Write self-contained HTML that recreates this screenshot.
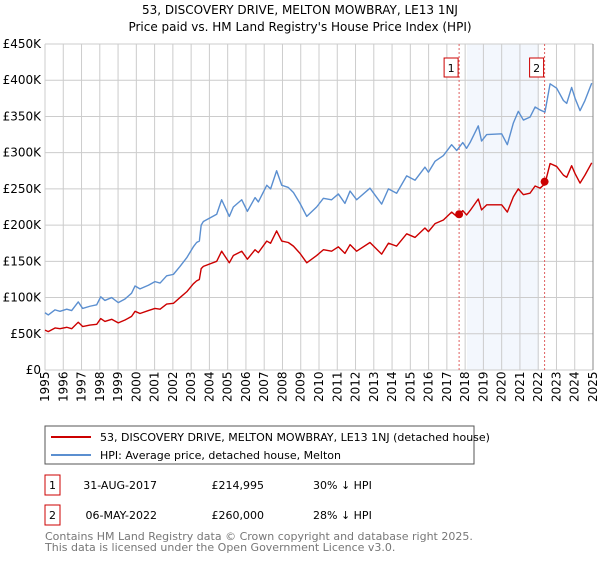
<!DOCTYPE html>
<html><head><meta charset="utf-8"><style>
body{margin:0;background:#fff;font-family:"DejaVu Sans","Liberation Sans",sans-serif;}
svg text{font-family:"DejaVu Sans","Liberation Sans",sans-serif;}
</style></head><body>
<svg id="c" width="600" height="560" xmlns="http://www.w3.org/2000/svg">
<text x="300" y="14" text-anchor="middle" font-size="12">53, DISCOVERY DRIVE, MELTON MOWBRAY, LE13 1NJ</text>
<text x="300" y="31" text-anchor="middle" font-size="12">Price paid vs. HM Land Registry's House Price Index (HPI)</text>
<g id="plot"></g>
<rect x="45" y="426" width="429" height="38" fill="#fff" stroke="#555"/>
<line x1="51" y1="437" x2="91" y2="437" stroke="#cc0000" stroke-width="2"/>
<text x="100" y="441" font-size="11">53, DISCOVERY DRIVE, MELTON MOWBRAY, LE13 1NJ (detached house)</text>
<line x1="51" y1="455" x2="91" y2="455" stroke="#5b8fd0" stroke-width="2"/>
<text x="100" y="459" font-size="11">HPI: Average price, detached house, Melton</text>
<rect x="45" y="475" width="15" height="20" fill="#fff" stroke="#cc0000"/>
<text x="52.5" y="489" text-anchor="middle" font-size="11">1</text>
<text x="157" y="489" text-anchor="end" font-size="11">31-AUG-2017</text>
<text x="264" y="489" text-anchor="end" font-size="11">£214,995</text>
<text x="313" y="489" font-size="11">30% ↓ HPI</text>
<rect x="45" y="505" width="15" height="20" fill="#fff" stroke="#cc0000"/>
<text x="52.5" y="519" text-anchor="middle" font-size="11">2</text>
<text x="157" y="519" text-anchor="end" font-size="11">06-MAY-2022</text>
<text x="264" y="519" text-anchor="end" font-size="11">£260,000</text>
<text x="313" y="519" font-size="11">28% ↓ HPI</text>
<text x="45" y="540" font-size="11" fill="#777">Contains HM Land Registry data © Crown copyright and database right 2025.</text>
<text x="45" y="551" font-size="11" fill="#777">This data is licensed under the Open Government Licence v3.0.</text>
</svg>
<script>
const hpiYears=[1995.0,1995.18,1995.55,1995.82,1996.19,1996.46,1996.82,1997.06,1997.46,1997.83,1998.05,1998.28,1998.65,1999.01,1999.38,1999.74,1999.93,2000.2,2000.66,2001.02,2001.3,2001.66,2002.03,2002.39,2002.76,2003.12,2003.3,2003.45,2003.55,2003.67,2004.4,2004.67,2005.09,2005.31,2005.77,2006.08,2006.5,2006.68,2007.14,2007.35,2007.68,2007.96,2008.32,2008.6,2008.96,2009.33,2009.87,2010.24,2010.69,2011.06,2011.42,2011.7,2012.06,2012.79,2013.43,2013.8,2014.25,2014.8,2015.26,2015.8,2015.99,2016.35,2016.81,2017.26,2017.54,2017.87,2018.08,2018.27,2018.72,2018.9,2019.18,2020.0,2020.31,2020.64,2020.91,2021.19,2021.55,2021.83,2022.1,2022.37,2022.65,2023.01,2023.38,2023.56,2023.83,2024.02,2024.29,2024.56,2024.93];
const hpiValues=[79,76,83,81,84,82,94,85,88,90,101,96,100,93,98,106,116,112,117,122,120,130,132,143,155,170,176,178,200,205,215,235,212,225,235,219,238,232,255,250,275,255,252,245,230,212,225,237,235,243,230,247,235,251,229,250,244,268,262,280,273,288,296,311,303,314,306,314,337,316,325,326,311,341,357,345,349,363,359,356,395,389,372,368,390,375,358,372,396];
const priceValues=[55,53,58,57,59,57,66,60,62,63,71,67,70,65,69,74,81,78,82,85,84,91,92,100,108,119,123,125,140,143,150,164,148,158,164,153,166,162,178,175,192,178,176,171,161,148,158,166,164,170,161,173,164,176,160,175,171,188,183,196,191,202,207,218,212,220,214,220,236,221,228,228,218,239,250,242,244,254,251,257,285,281,269,266,282,271,258,269,286];
const saleYears=[2017.67,2022.35];
const saleValues=[215,260];
const saleLabels=["1","2"];
const yTicks=[0,50,100,150,200,250,300,350,400,450];
const yTickLabels=["£0","£50K","£100K","£150K","£200K","£250K","£300K","£350K","£400K","£450K"];
const xTicks=[1995,1996,1997,1998,1999,2000,2001,2002,2003,2004,2005,2006,2007,2008,2009,2010,2011,2012,2013,2014,2015,2016,2017,2018,2019,2020,2021,2022,2023,2024,2025];
const shadeRange=[2018.1,2022.05];

const NS="http://www.w3.org/2000/svg";
const L=45,R=593,T=44,B=370;
const xs=y=>L+(y-1995)/(2025-1995)*(R-L);
const ys=v=>B-v/450*(B-T);
const g=document.getElementById('plot');
function mk(tag,attrs){const e=document.createElementNS(NS,tag);for(const k in attrs)e.setAttribute(k,attrs[k]);g.appendChild(e);return e;}

let sh=mk('rect',{x:xs(shadeRange[0]),y:T,width:xs(shadeRange[1])-xs(shadeRange[0]),height:B-T,fill:'#eef3fc',opacity:0.7});


yTicks.forEach((v,i)=>{
 let l=mk('line',{x1:L,x2:R,y1:ys(v),y2:ys(v),stroke:'#cccccc','stroke-width':1});
 
 
 let t=mk('text',{x:L-4,y:ys(v)+4,'text-anchor':'end','font-size':12});
 t.textContent=yTickLabels[i];
 
 
});
xTicks.forEach(y=>{
 let l=mk('line',{x1:xs(y),x2:xs(y),y1:T,y2:B,stroke:'#cccccc','stroke-width':1});
 
 
 let t=mk('text',{x:0,y:0,'font-size':12,transform:`translate(${xs(y)+4},${B+32}) rotate(-90)`});
 t.textContent=y;
 
 
});
saleYears.forEach((y,i)=>{
 let l=mk('line',{x1:xs(y),x2:xs(y),y1:T,y2:B,stroke:'#e06060','stroke-width':1,'stroke-dasharray':'2,2'});
 
 
 let r=mk('rect',{x:xs(y)-15,y:58,width:14,height:19,fill:'#fff',stroke:'#cc0000'});
 
 
 let t=mk('text',{x:xs(y)-8,y:72,'text-anchor':'middle','font-size':11});
 t.textContent=saleLabels[i];
 
 
});
function line(vals,color,name){
 const p=mk('polyline',{points:hpiYears.map((y,i)=>xs(y)+','+ys(vals[i])).join(' '),fill:'none',stroke:color,'stroke-width':1.4,'stroke-linejoin':'round'});
 
 
}
line(hpiValues,'#5b8fd0','hpi-line');
line(priceValues,'#cc0000','price-line');
saleYears.forEach((y,i)=>{
 let c=mk('circle',{cx:xs(y),cy:ys(saleValues[i]),r:4,fill:'#cc0000'});
 
 
});
let ax=mk('line',{x1:R,x2:R,y1:T,y2:B,stroke:'#888'});


</script>
</body></html>
